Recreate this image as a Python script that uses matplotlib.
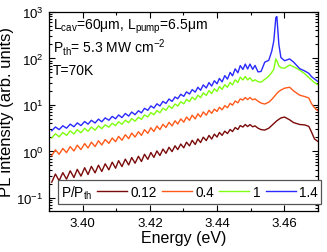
import numpy as np
import matplotlib
matplotlib.use("Agg")
import matplotlib.pyplot as plt
from matplotlib.offsetbox import HPacker
from matplotlib.ticker import LogLocator, MultipleLocator, NullFormatter, FormatStrFormatter

plt.rcParams['font.family'] = ['Liberation Sans', 'DejaVu Sans']
plt.rcParams['mathtext.fontset'] = 'custom'
plt.rcParams['mathtext.rm'] = 'Liberation Sans'
plt.rcParams['mathtext.it'] = 'Liberation Sans:italic'
plt.rcParams['mathtext.bf'] = 'Liberation Sans:bold'

# ---------------- data ----------------
fringe_E = [3.3908, 3.3919, 3.3930, 3.3941, 3.3952, 3.3963, 3.3974, 3.3984, 3.3995, 3.4006,
            3.4016, 3.4026, 3.4037, 3.4047, 3.4057, 3.4067, 3.4078, 3.4088, 3.4098, 3.4107,
            3.4117, 3.4127, 3.4137, 3.4146, 3.4156, 3.4166, 3.4175, 3.4184, 3.4194, 3.4203,
            3.4212, 3.4221, 3.4230, 3.4239, 3.4248, 3.4257, 3.4266, 3.4275, 3.4283, 3.4292,
            3.4301, 3.4309, 3.4318, 3.4326, 3.4335, 3.4343, 3.4351, 3.4359, 3.4368, 3.4376,
            3.4384, 3.4392, 3.4400, 3.4407, 3.4415, 3.4423, 3.4431, 3.4439, 3.4446, 3.4454,
            3.4462, 3.4469, 3.4477, 3.4484, 3.4491, 3.4498, 3.4506, 3.4513]
tail_E = [3.4522, 3.4531, 3.4542, 3.4554, 3.4563, 3.4569, 3.4575, 3.4578, 3.4584, 3.4590,
          3.4601, 3.4616, 3.4628, 3.4646, 3.4661, 3.4673, 3.4681, 3.4690, 3.4699]

# log10 of PL intensity
logI_012 = [-0.66, -0.485, -0.63, -0.455, -0.595, -0.415, -0.56, -0.385, -0.53, -0.35,
            -0.495, -0.32, -0.46, -0.295, -0.43, -0.265, -0.395, -0.23, -0.36, -0.198,
            -0.325, -0.165, -0.29, -0.13, -0.253, -0.103, -0.217, -0.06, -0.17, -0.022,
            -0.128, 0.012, -0.088, 0.052, -0.04, 0.09, -0.003, 0.122, 0.04, 0.16,
            0.078, 0.2, 0.12, 0.24, 0.15, 0.27, 0.192, 0.307, 0.234, 0.345,
            0.267, 0.372, 0.31, 0.408, 0.347, 0.437, 0.385, 0.473, 0.428, 0.515,
            0.472, 0.557, 0.525, 0.58, 0.535, 0.578, 0.53, 0.55,
            0.50, 0.47, 0.46, 0.50, 0.56, 0.60, 0.64, 0.66, 0.69, 0.72,
            0.74, 0.68, 0.62, 0.58, 0.57, 0.54, 0.42, 0.27, 0.22]
logI_04 = [-0.09, 0.035, -0.06, 0.065, -0.025, 0.105, 0.01, 0.135, 0.04, 0.17,
           0.075, 0.2, 0.105, 0.23, 0.14, 0.255, 0.175, 0.29, 0.21, 0.325,
           0.24, 0.36, 0.275, 0.395, 0.31, 0.425, 0.345, 0.468, 0.39, 0.51,
           0.429, 0.547, 0.47, 0.585, 0.515, 0.626, 0.55, 0.66, 0.59, 0.70,
           0.63, 0.74, 0.67, 0.78, 0.70, 0.81, 0.74, 0.85, 0.78, 0.885,
           0.82, 0.91, 0.86, 0.95, 0.895, 0.985, 0.94, 1.035, 0.995, 1.085,
           1.045, 1.13, 1.105, 1.16, 1.115, 1.16, 1.11, 1.13,
           1.08, 1.04, 1.02, 1.06, 1.12, 1.17, 1.22, 1.25, 1.29, 1.32,
           1.36, 1.38, 1.30, 1.21, 1.18, 1.15, 1.03, 0.94, 0.88]
logI_1 = [0.29, 0.382, 0.315, 0.408, 0.345, 0.443, 0.376, 0.469, 0.401, 0.499,
          0.432, 0.525, 0.457, 0.55, 0.489, 0.573, 0.523, 0.607, 0.556, 0.64,
          0.584, 0.673, 0.618, 0.707, 0.651, 0.735, 0.689, 0.786, 0.742, 0.836,
          0.789, 0.88, 0.832, 0.931, 0.885, 0.98, 0.927, 1.021, 0.975, 1.069,
          1.024, 1.119, 1.073, 1.167, 1.112, 1.211, 1.156, 1.26, 1.204, 1.309,
          1.243, 1.347, 1.291, 1.395, 1.335, 1.435, 1.38, 1.485, 1.431, 1.541,
          1.481, 1.596, 1.538, 1.613, 1.538, 1.584, 1.51, 1.54,
          1.50, 1.49, 1.55, 1.62, 1.70, 1.77, 1.99, 1.95, 1.84, 1.80,
          1.79, 1.86, 1.82, 1.75, 1.67, 1.59, 1.54, 1.48, 1.44]
logI_14 = [0.445, 0.527, 0.47, 0.553, 0.50, 0.588, 0.531, 0.614, 0.556, 0.644,
           0.587, 0.67, 0.612, 0.695, 0.638, 0.722, 0.671, 0.754, 0.702, 0.785,
           0.728, 0.816, 0.76, 0.848, 0.791, 0.875, 0.83, 0.928, 0.884, 0.979,
           0.933, 1.025, 0.978, 1.077, 1.032, 1.128, 1.076, 1.171, 1.135, 1.229,
           1.185, 1.281, 1.235, 1.33, 1.275, 1.38, 1.316, 1.431, 1.365, 1.481,
           1.406, 1.52, 1.455, 1.57, 1.495, 1.63, 1.555, 1.70, 1.626, 1.776,
           1.691, 1.846, 1.763, 1.878, 1.773, 1.879, 1.765, 1.85,
           1.71, 1.72, 1.92, 1.96, 2.16, 2.38, 2.88, 2.90, 2.30, 2.02,
           1.95, 1.99, 1.92, 1.78, 1.73, 1.68, 1.61, 1.56, 1.51]

series_labels = ['0.12', '0.4', '1', '1.4']
series_colors = ['#7a0a0a', '#ff5a1a', '#80ff10', '#2a2aff']
series_logI = [logI_012, logI_04, logI_1, logI_14]

# ---------------- figure ----------------
fig = plt.figure(figsize=(3.27, 2.53), dpi=100)
ax = fig.add_axes([0.150, 0.162, 0.822, 0.787])

E = np.array(fringe_E + tail_E)
handles = []
for lab, col, lg in zip(series_labels, series_colors, series_logI):
    h, = ax.plot(E, 10.0 ** np.array(lg), color=col, lw=1.0, label=lab)
    handles.append(h)

ax.set_yscale('log')
ax.set_xlim(3.39, 3.47)
ax.set_ylim(10 ** -1.28, 1000)
ax.xaxis.set_major_locator(MultipleLocator(0.02))
ax.xaxis.set_minor_locator(MultipleLocator(0.01))
ax.xaxis.set_major_formatter(FormatStrFormatter('%.2f'))
ax.yaxis.set_major_locator(LogLocator(base=10, numticks=10))
ax.yaxis.set_minor_locator(LogLocator(base=10, subs=np.arange(2, 10), numticks=20))
ax.yaxis.set_minor_formatter(NullFormatter())

ax.tick_params(which='both', direction='in', top=True, right=True, labelsize=9.5,
               colors='black', width=0.8)
ax.tick_params(which='major', length=4, pad=4)
ax.tick_params(which='minor', length=2)
for sp in ax.spines.values():
    sp.set_linewidth(0.9)

ax.set_xlabel('Energy (eV)', fontsize=11.5, labelpad=1)
ax.set_ylabel('PL intensity (arb. units)', fontsize=12, labelpad=2)

ax.text(0.015, 0.915, r'L$_{\mathrm{cav}}$=60μm, L$_{\mathrm{pump}}$=6.5μm',
        transform=ax.transAxes, fontsize=10, va='baseline', ha='left')
ax.text(0.015, 0.80, r'P$_{\mathrm{th}}$= 5.3 MW cm$^{-2}$',
        transform=ax.transAxes, fontsize=10, va='baseline', ha='left')
ax.text(0.015, 0.69, 'T=70K',
        transform=ax.transAxes, fontsize=10, va='baseline', ha='left')

leg = ax.legend(handles=handles, labels=series_labels, title=r'P/P$_{\mathrm{th}}$',
                ncol=4, loc='lower left', bbox_to_anchor=(0.033, 0.035),
                borderaxespad=0, fontsize=9.8, title_fontsize=9.8,
                handlelength=2.2, handletextpad=0.25, columnspacing=0.4,
                labelspacing=0.3, borderpad=0.25, fancybox=False, framealpha=1,
                edgecolor='#555555')
leg.get_frame().set_linewidth(0.9)
leg._legend_box.__class__ = HPacker

fig.savefig('out.png', dpi=100)
